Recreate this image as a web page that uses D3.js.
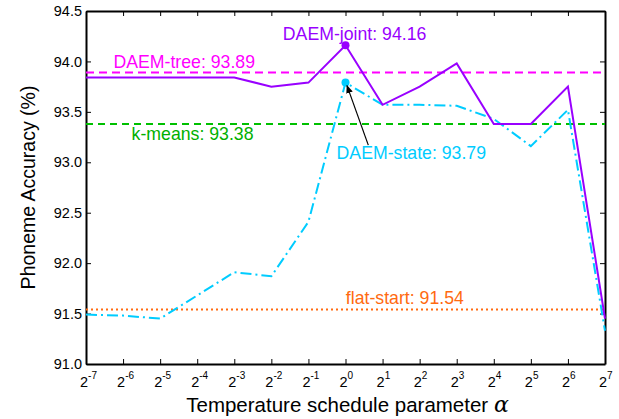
<!DOCTYPE html>
<html>
<head>
<meta charset="utf-8">
<script src="https://cdn.jsdelivr.net/npm/d3@7"></script>
<style>
  body { margin: 0; background: #fff; }
  text { font-family: "Liberation Sans", Arial, sans-serif; }
</style>
</head>
<body>
<script>
// exponents of 2 on the x axis
var exponents = [-7, -6, -5, -4, -3, -2, -1, 0, 1, 2, 3, 4, 5, 6, 7];
var daemJoint = [93.84, 93.84, 93.84, 93.84, 93.84, 93.75, 93.79, 94.16, 93.57, 93.75, 93.98, 93.38, 93.38, 93.75, 91.45];
var daemState = [91.49, 91.48, 91.45, 91.68, 91.91, 91.87, 92.41, 93.79, 93.57, 93.57, 93.56, 93.43, 93.16, 93.52, 91.33];
var yTicks = [91.0, 91.5, 92.0, 92.5, 93.0, 93.5, 94.0, 94.5];

var daemTree = 93.89, kMeans = 93.38, flatStart = 91.54;

var margin = { top: 11, right: 14, bottom: 55, left: 86 },
  width = 619 - margin.left - margin.right,
  height = 419 - margin.top - margin.bottom;

var x = d3.scaleLinear().domain([-7, 7]).range([0, width]);
var y = d3.scaleLinear().domain([91, 94.5]).range([height, 0]);

var svg = d3.select("body").append("svg")
  .attr("width", 619)
  .attr("height", 419)
  .append("g")
  .attr("transform", "translate(" + margin.left + "," + margin.top + ")");

svg.append("defs").append("marker")
  .attr("id", "arrow")
  .attr("viewBox", "0 0 10 10")
  .attr("refX", 9).attr("refY", 5)
  .attr("markerWidth", 7).attr("markerHeight", 7)
  .attr("orient", "auto")
  .append("path")
  .attr("d", "M0,1 L10,5 L0,9 z")
  .attr("fill", "#000");

// axes, ticks pointing inward like matlab
var axBottom = svg.append("g")
  .attr("transform", "translate(0," + height + ")")
  .call(d3.axisBottom(x).tickValues(exponents).tickSizeInner(-5).tickSizeOuter(0).tickFormat(""));
var axTop = svg.append("g")
  .call(d3.axisTop(x).tickValues(exponents).tickSizeInner(-5).tickSizeOuter(0).tickFormat(""));
var axLeft = svg.append("g")
  .call(d3.axisLeft(y).tickValues(yTicks).tickSizeInner(-5).tickSizeOuter(0).tickFormat(d3.format(".1f")));
var axRight = svg.append("g")
  .attr("transform", "translate(" + width + ",0)")
  .call(d3.axisRight(y).tickValues(yTicks).tickSizeInner(-5).tickSizeOuter(0).tickFormat(""));

[axBottom, axTop, axLeft, axRight].forEach(function (g) {
  g.attr("font-size", null).attr("font-family", null);
  g.select(".domain").attr("stroke", "#000").attr("stroke-width", 2);
  g.selectAll(".tick line").attr("stroke", "#000").attr("stroke-width", 1);
});
axLeft.selectAll(".tick text")
  .attr("x", -4)
  .attr("font-size", 14.5)
  .attr("fill", "#000");

// x tick labels as 2^n
var xl = svg.append("g").attr("transform", "translate(0," + (height + 22.5) + ")");
exponents.forEach(function (e) {
  var t = xl.append("text")
    .attr("x", x(e) - 6)
    .attr("y", 0)
    .attr("font-size", 14.5)
    .attr("fill", "#000");
  t.append("tspan").text("2");
  t.append("tspan").attr("dy", -8).attr("font-size", 10).text(e);
});

// reference lines
function hline(v, color, dash) {
  svg.append("line")
    .attr("x1", 0).attr("x2", width)
    .attr("y1", y(v)).attr("y2", y(v))
    .attr("stroke", color).attr("stroke-width", 2)
    .attr("stroke-dasharray", dash);
}
hline(daemTree, "#ff00ff", "8,5");
hline(kMeans, "#00c000", "7,5");
hline(flatStart, "#ff6a10", "2,3");

var line = d3.line()
  .x(function (d) { return x(d[0]); })
  .y(function (d) { return y(d[1]); });

svg.append("path")
  .datum(d3.zip(exponents, daemState))
  .attr("d", line)
  .attr("fill", "none")
  .attr("stroke", "#00ccff")
  .attr("stroke-width", 2)
  .attr("stroke-dasharray", "11,4,2,4");

svg.append("path")
  .datum(d3.zip(exponents, daemJoint))
  .attr("d", line)
  .attr("fill", "none")
  .attr("stroke", "#9900ff")
  .attr("stroke-width", 2);

// best points
var iBest = exponents.indexOf(0);
svg.append("circle").attr("cx", x(0)).attr("cy", y(daemJoint[iBest])).attr("r", 4).attr("fill", "#9900ff");
svg.append("circle").attr("cx", x(0)).attr("cy", y(daemState[iBest])).attr("r", 4).attr("fill", "#00ccff");

// arrow from label to state point
svg.append("line")
  .attr("x1", x(0.615)).attr("y1", y(93.17))
  .attr("x2", x(0.04)).attr("y2", y(daemState[iBest]) + 3)
  .attr("stroke", "#000").attr("stroke-width", 1.2)
  .attr("marker-end", "url(#arrow)");

// annotations
function label(txt, xv, yv, color) {
  svg.append("text")
    .attr("x", x(xv)).attr("y", y(yv))
    .attr("fill", color)
    .attr("font-size", 17.7)
    .text(txt);
}
label("DAEM-joint: " + daemJoint[iBest].toFixed(2), -1.69, 94.21, "#9900ff");
label("DAEM-tree: " + daemTree.toFixed(2), -6.26, 93.93, "#ff00ff");
label("k-means: " + kMeans.toFixed(2), -5.77, 93.22, "#00b000");
label("DAEM-state: " + daemState[iBest].toFixed(2), -0.24, 93.035, "#00ccff");
label("flat-start: " + flatStart.toFixed(2), 0.01, 91.59, "#ff6a10");

// axis titles
svg.append("text")
  .attr("transform", "translate(" + (-51) + "," + (height / 2) + ") rotate(-90)")
  .attr("text-anchor", "middle")
  .attr("font-size", 19.5)
  .attr("fill", "#000")
  .text("Phoneme Accuracy (%)");

var xt = svg.append("text")
  .attr("x", width / 2 + 2)
  .attr("y", height + 48)
  .attr("text-anchor", "middle")
  .attr("font-size", 20.5)
  .attr("fill", "#000");
xt.append("tspan").text("Temperature schedule parameter ");
xt.append("tspan")
  .style("font-family", "DejaVu Serif, serif")
  .style("font-style", "italic")
  .attr("font-size", 22)
  .text("\u03b1");
</script>
</body>
</html>
